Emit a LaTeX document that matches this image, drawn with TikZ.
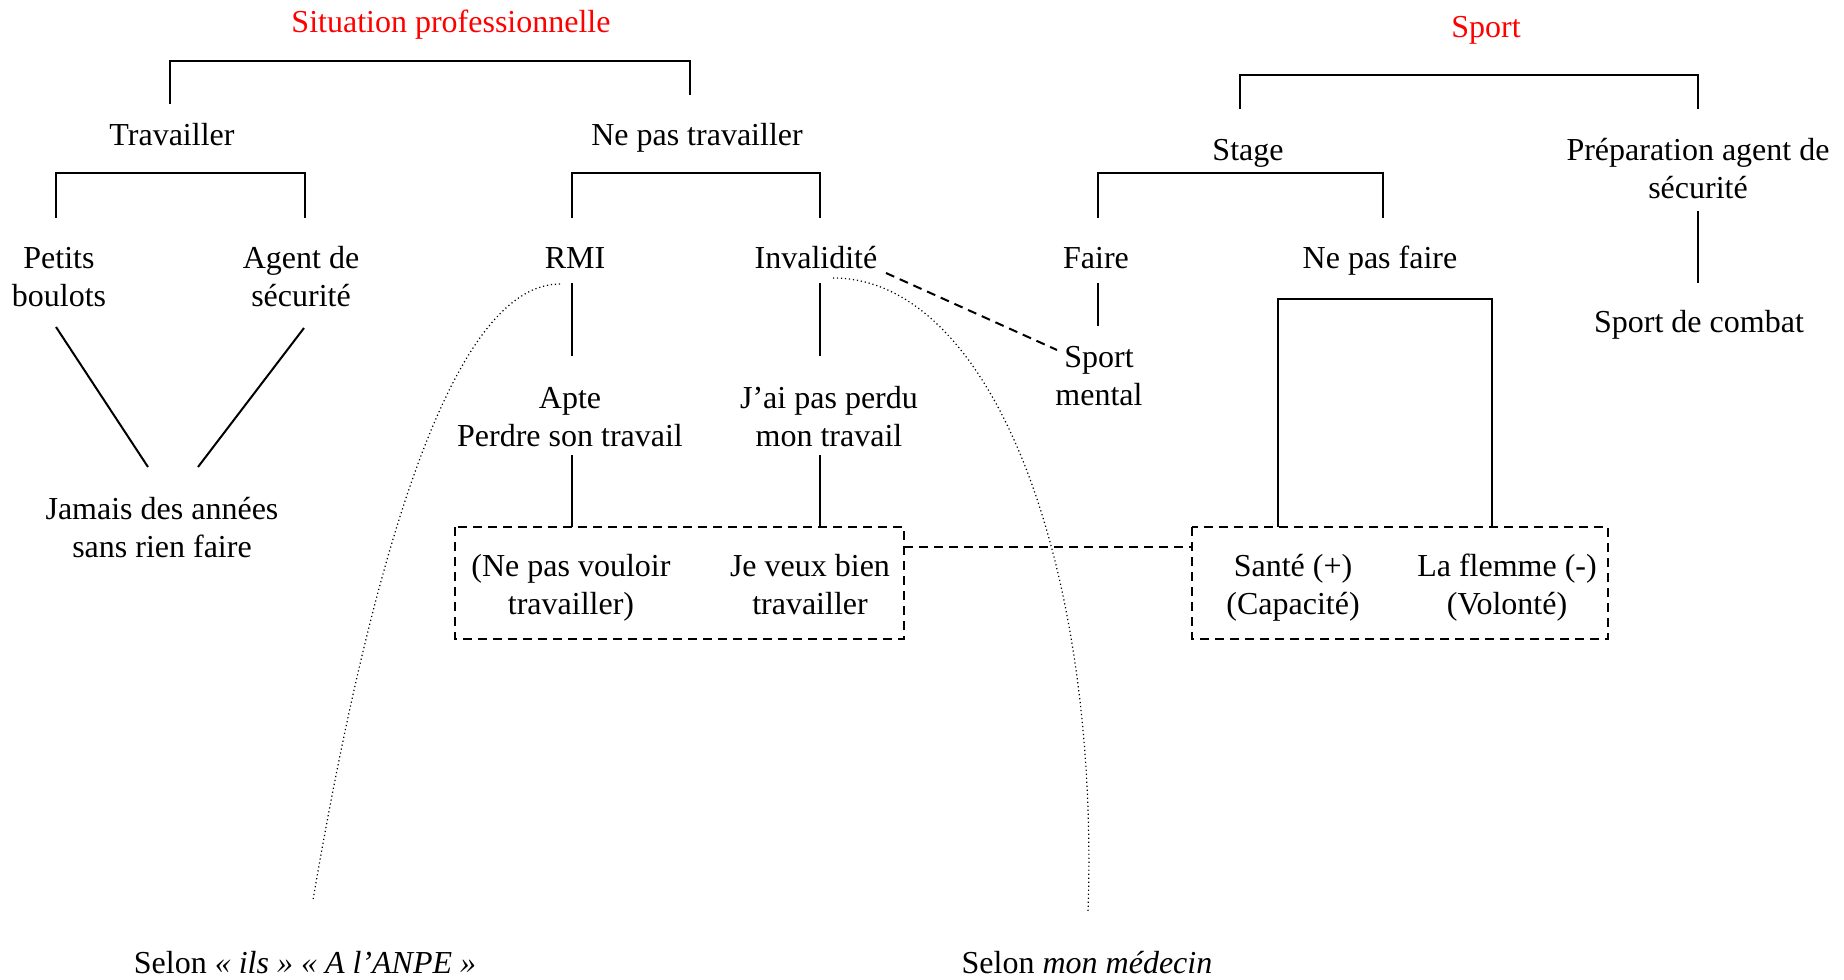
\documentclass[tikz,border=0pt]{standalone}
\usepackage{fontspec}
\setmainfont{Liberation Serif}
\definecolor{titlered}{RGB}{255,0,0}
\tikzset{
  lbl/.style={align=center, inner sep=0pt, anchor=base, font=\fontsize{16}{19}\selectfont},
  ttl/.style={lbl, text=titlered},
  solidln/.style={line width=1pt},
  dashln/.style={line width=1pt, dash pattern=on 4.5pt off 3pt},
  dotln/.style={line width=0.6pt, dash pattern=on 0.6pt off 1.4pt},
}
\begin{document}
\begin{tikzpicture}[x=0.5pt, y=-0.5pt]
\useasboundingbox (0,0) rectangle (1844,980);

% ---- texts (base anchor = baseline of last line) ----
\node[ttl] (sit) at (451,32) {Situation professionnelle};
\node[lbl] (trav) at (172,145) {Travailler};
\node[lbl] (npt) at (697,145) {Ne pas travailler};
\node[lbl] (petits) at (59,306) {Petits\\boulots};
\node[lbl] (agent) at (301,306) {Agent de\\sécurité};
\node[lbl] (rmi) at (575,268) {RMI};
\node[lbl] (inval) at (816,268) {Invalidité};
\node[lbl] (apte) at (570,446) {Apte\\Perdre son travail};
\node[lbl] (jai) at (829,446) {J’ai pas perdu\\mon travail};
\node[lbl] (jamais) at (162,557) {Jamais des années\\sans rien faire};
\node[lbl] (nepas) at (571,614) {(Ne pas vouloir\\travailler)};
\node[lbl] (jeveux) at (810,614) {Je veux bien\\travailler};

\node[ttl] (sport) at (1486,37) {Sport};
\node[lbl] (stage) at (1248,160) {Stage};
\node[lbl] (prep) at (1698,198) {Préparation agent de\\sécurité};
\node[lbl] (faire) at (1096,268) {Faire};
\node[lbl] (npf) at (1380,268) {Ne pas faire};
\node[lbl] (combat) at (1699,332) {Sport de combat};
\node[lbl] (mental) at (1099,405) {Sport\\mental};
\node[lbl] (sante) at (1293,614) {Santé (+)\\(Capacité)};
\node[lbl] (flemme) at (1507,614) {La flemme (-)\\(Volonté)};

\node[lbl] (selon1) at (305,973) {Selon \textit{« ils » « A l’ANPE »}};
\node[lbl] (selon2) at (1087,973) {Selon \textit{mon médecin}};

% ---- anchor coordinates ----
\coordinate (sitL) at (170,104);
\coordinate (sitR) at (690,95);
\coordinate (travL) at (56,218);
\coordinate (travR) at (305,218);
\coordinate (nptL) at (572,218);
\coordinate (nptR) at (820,218);
\coordinate (rmiB) at (572,283);
\coordinate (apteT) at (572,356);
\coordinate (apteB) at (572,455);
\coordinate (box1T) at (572,527);
\coordinate (invB) at (820,283);
\coordinate (jaiT) at (820,356);
\coordinate (jaiB) at (820,455);
\coordinate (box1T2) at (820,527);
\coordinate (petB) at (56,327);
\coordinate (jamL) at (148,467);
\coordinate (agB) at (304,328);
\coordinate (jamR) at (198,467);
\coordinate (box1NW) at (455,527);
\coordinate (box1SE) at (904,639);
\coordinate (box2NW) at (1192,527);
\coordinate (box2SE) at (1608,639);
\coordinate (box1E) at (904,547);
\coordinate (box2W) at (1192,547);
\coordinate (spL) at (1240,109);
\coordinate (spR) at (1698,109);
\coordinate (stL) at (1098,218);
\coordinate (stR) at (1383,218);
\coordinate (prepB) at (1698,211);
\coordinate (combT) at (1698,283);
\coordinate (faireB) at (1098,283);
\coordinate (mentT) at (1098,326);
\coordinate (npfL) at (1278,527);
\coordinate (npfR) at (1492,527);
\coordinate (invE) at (886,273);
\coordinate (mentW) at (1057,350);
\coordinate (rmiC) at (560,284);
\coordinate (sel1T) at (313,900);
\coordinate (invC) at (833,278);
\coordinate (sel2T) at (1088,913);

% ---- brackets and lines ----
\draw[solidln] (sitL) -- ++(0,-43) -| (sitR);
\draw[solidln] (travL) -- ++(0,-45) -| (travR);
\draw[solidln] (nptL) -- ++(0,-45) -| (nptR);
\draw[solidln] (rmiB) -- (apteT);
\draw[solidln] (apteB) -- (box1T);
\draw[solidln] (invB) -- (jaiT);
\draw[solidln] (jaiB) -- (box1T2);
\draw[solidln] (petB) -- (jamL);
\draw[solidln] (agB) -- (jamR);

\draw[solidln] (spL) -- ++(0,-34) -| (spR);
\draw[solidln] (stL) -- ++(0,-45) -| (stR);
\draw[solidln] (prepB) -- (combT);
\draw[solidln] (faireB) -- (mentT);
\draw[solidln] (npfL) -- ++(0,-228) -| (npfR);

% ---- dashed ----
\draw[dashln] (box1NW) rectangle (box1SE);
\draw[dashln] (box2NW) rectangle (box2SE);
\draw[dashln] (box1E) -- (box2W);
\draw[dashln] (invE) -- (mentW);

% ---- dotted curves ----
\draw[dotln] (rmiC) .. controls +(-100,0) and +(65,-380) .. (sel1T);
\draw[dotln] (invC) .. controls +(157,0) and +(12,-353) .. (sel2T);
\end{tikzpicture}
\end{document}
